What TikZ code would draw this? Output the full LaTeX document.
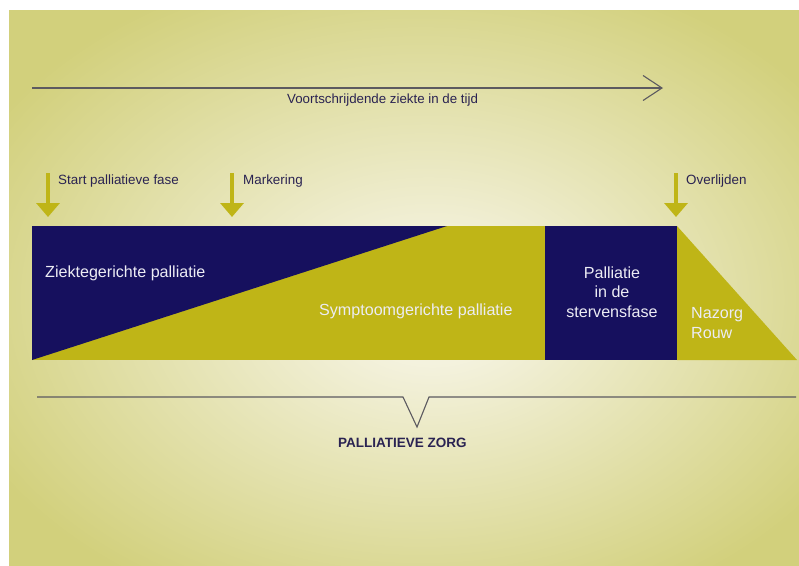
\documentclass[tikz,border=0pt]{standalone}
\usepackage{fontspec}
\setmainfont{Liberation Sans}
\usetikzlibrary{arrows.meta}
\definecolor{bgedge}{HTML}{D2D07C}
\definecolor{bgmid}{HTML}{F4F2DE}
\definecolor{navy}{HTML}{16105E}
\definecolor{olive}{HTML}{BFB517}
\definecolor{labeltxt}{HTML}{2A2352}
\definecolor{linegray}{HTML}{5C5A60}
\definecolor{bartxt}{HTML}{ECECF4}
\pgfdeclareradialshading{bgshade}{\pgfpoint{2bp}{-2bp}}{color(0bp)=(bgmid); color(5bp)=(bgmid); color(31bp)=(bgedge); color(50bp)=(bgedge)}
\tikzset{
  lbl/.style={anchor=west, inner sep=0pt, text=labeltxt, font=\fontsize{13.4}{16}\selectfont},
  bartext/.style={inner sep=0pt, text=bartxt, font=\fontsize{16.1}{19.5}\selectfont},
  downarrow/.style={draw=olive, line width=4pt, -{Triangle[width=23pt,length=14pt]}},
  thinline/.style={draw=linegray, line width=1.1pt},
}
\begin{document}
\begin{tikzpicture}[x=1pt,y=-1pt]
\useasboundingbox (0,0) rectangle (799,565);
\fill[white] (0,0) rectangle (799,565);
\shade[shading=bgshade] (9,10) rectangle (799,565);
% top time arrow
\coordinate (ts) at (32,88);
\coordinate (te) at (663,88);
\draw[thinline, -{Straight Barb[length=19pt,width=25pt,line width=1.1pt]}] (ts) -- (te);
\node[lbl, font=\fontsize{13.3}{16}\selectfont] (tijd) at (287,100) {Voortschrijdende ziekte in de tijd};
% down arrows
\coordinate (a1s) at (48,173); \coordinate (a1e) at (48,217);
\coordinate (a2s) at (232,173); \coordinate (a2e) at (232,217);
\coordinate (a3s) at (676,173); \coordinate (a3e) at (676,217);
\draw[downarrow] (a1s) -- (a1e);
\draw[downarrow] (a2s) -- (a2e);
\draw[downarrow] (a3s) -- (a3e);
\node[lbl] (start) at (58,181) {Start palliatieve fase};
\node[lbl] (mark) at (243,181) {Markering};
\node[lbl] (over) at (686,181) {Overlijden};
% main bar
\fill[olive] (32,226) rectangle (545,360);
\fill[navy] (32,226) -- (447,226) -- (32,360) -- cycle;
\fill[navy] (545,226) rectangle (677,360);
\fill[olive] (677,226) -- (677,360) -- (797,360) -- cycle;
\node[bartext, anchor=west] (ziekte) at (45,273) {Ziektegerichte palliatie};
\node[bartext, anchor=west] (sympt) at (319,311) {Symptoomgerichte palliatie};
\node[bartext, align=center] (sterf) at (612,292) {Palliatie\\in de\\stervensfase};
\node[bartext, anchor=west, align=left] (nazorg) at (691,323) {Nazorg\\Rouw};
% bracket
\coordinate (b1) at (37,397);
\coordinate (b2) at (403,397);
\coordinate (b3) at (417,427);
\coordinate (b4) at (429,397);
\coordinate (b5) at (796,397);
\draw[thinline] (b1) -- (b2) -- (b3) -- (b4) -- (b5);
\node[lbl, font=\bfseries\fontsize{13.5}{16}\selectfont] (pz) at (338,443) {PALLIATIEVE ZORG};
\end{tikzpicture}
\end{document}
